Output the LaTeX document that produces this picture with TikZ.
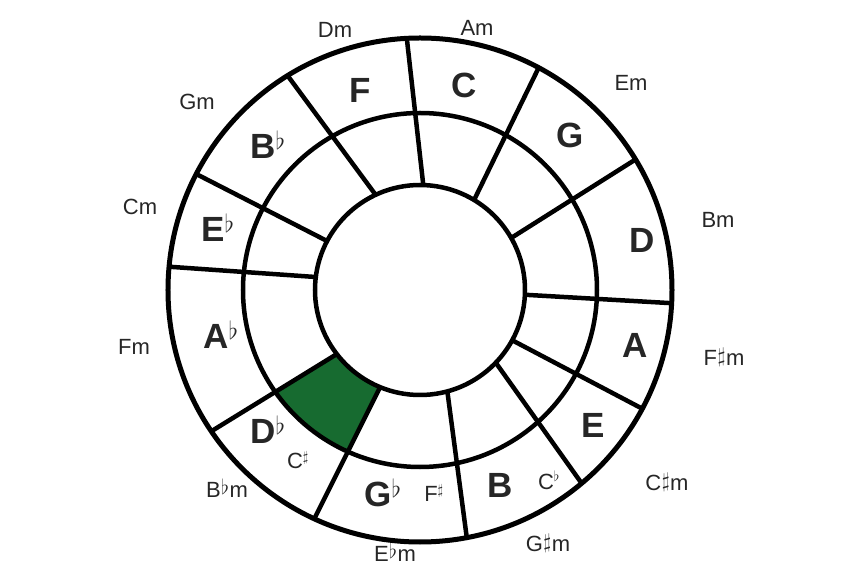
\documentclass[tikz,border=0pt]{standalone}
\usepackage{fontspec}
\setmainfont{Liberation Sans}
\definecolor{cfgreen}{HTML}{176B30}
\newcommand{\cfsh}{\kern0.5pt\raisebox{0.3ex}{$\sharp$}\kern0.5pt}
\newcommand{\cffl}{\kern0.5pt\raisebox{0.3ex}{$\flat$}\kern0.5pt}
\tikzset{
  cfrim/.style={draw=black, line width=5pt},
  cfring/.style={draw=black, line width=4.5pt},
  cfdiv/.style={draw=black, line width=4.5pt},
  cfmajor/.style={font=\fontsize{35}{35}\selectfont\bfseries, text=black!85, inner sep=0pt},
  cfminor/.style={font=\fontsize{22}{22}\selectfont, text=black!85, inner sep=0pt},
  cfenh/.style={cfminor}
}

\begin{document}
\begin{tikzpicture}[x=1pt, y=1pt]
  \useasboundingbox (-420,-290) rectangle (423,290);
  % highlighted cell of the middle ring
  \begin{scope}
    \clip (0,0) circle (177);
    \fill[cfgreen] (214.1:252) -- (217.6:105) -- (247.7:105) -- (245.2:252) -- cycle;
  \end{scope}
  \fill[white] (0,0) circle (105);
  % rings
  \draw[cfrim] (0,0) circle (252);
  \draw[cfring] (0,0) circle (177);
  \draw[cfring] (0,0) circle (105);
  % dividers, outer end / inner end
  \foreach \a/\b in {93/88.2, 121.7/115, 152.6/152.2, 174.7/172.9, 214.1/217.6, 245.2/247.7,
                     280.7/285.1, 309.9/316.2, 331.9/331.4, 357/357.4, 31.2/29.7, 61.9/59}
    \draw[cfdiv] (\a:252) -- (\b:105);

  % major keys
  \node[cfmajor] (maj-C)  at (44,205)   {C};
  \node[cfmajor] (maj-G)  at (150,155)  {G};
  \node[cfmajor] (maj-D)  at (222,50)   {D};
  \node[cfmajor] (maj-A)  at (215,-55)  {A};
  \node[cfmajor] (maj-E)  at (173,-135) {E};
  \node[cfmajor] (maj-B)  at (80,-195)  {B};
  \node[cfmajor] (maj-Gb) at (-37,-203) {G$^\flat$};
  \node[cfmajor] (maj-Db) at (-152,-140) {D$^\flat$};
  \node[cfmajor] (maj-Ab) at (-199,-45) {A$^\flat$};
  \node[cfmajor] (maj-Eb) at (-202,62)  {E$^\flat$};
  \node[cfmajor] (maj-Bb) at (-152,145) {B$^\flat$};
  \node[cfmajor] (maj-F)  at (-60,200)  {F};

  % enharmonic names
  \node[cfenh] (enh-Cs) at (-122,-170) {C$^\sharp$};
  \node[cfenh] (enh-Fs) at (14,-203)   {F$^\sharp$};
  \node[cfenh] (enh-Cb) at (129,-190)  {C$^\flat$};

  % relative minors
  \node[cfminor] (min-Am)  at (57,262)    {Am};
  \node[cfminor] (min-Em)  at (211,207)   {Em};
  \node[cfminor] (min-Bm)  at (298,70)    {Bm};
  \node[cfminor] (min-Fsm) at (304,-67)   {F\cfsh m};
  \node[cfminor] (min-Csm) at (247,-192)  {C\cfsh m};
  \node[cfminor] (min-Gsm) at (128,-253)  {G\cfsh m};
  \node[cfminor] (min-Ebm) at (-25,-262)  {E\cffl m};
  \node[cfminor] (min-Bbm) at (-193,-198) {B\cffl m};
  \node[cfminor] (min-Fm)  at (-286,-57)  {Fm};
  \node[cfminor] (min-Cm)  at (-280,83)   {Cm};
  \node[cfminor] (min-Gm)  at (-223,188)  {Gm};
  \node[cfminor] (min-Dm)  at (-85,260)   {Dm};
\end{tikzpicture}
\end{document}
